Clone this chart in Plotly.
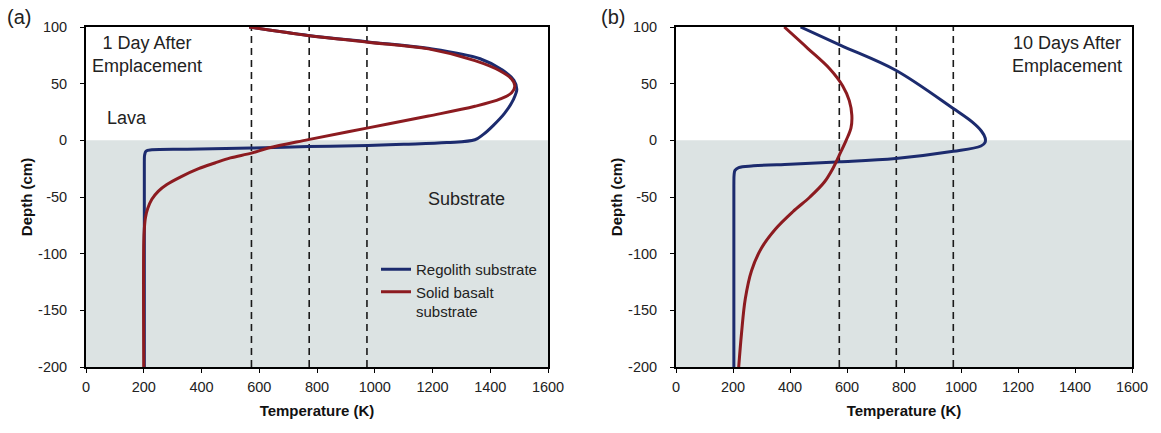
import plotly.graph_objects as go

# ---------------- data ----------------
# Panel (a): 1 day after emplacement
a_regolith_T = [565, 770, 977, 1190, 1365, 1442, 1482, 1492, 1480, 1450, 1410, 1375, 1347, 1250, 1100, 977, 770, 573, 350, 228, 208, 203, 202, 202]
a_regolith_d = [100, 92.6, 86.8, 81, 72, 62, 53, 45, 36, 24, 13, 5, 0.5, -2, -3.5, -4.5, -5.5, -6.8, -7.8, -8.4, -9.5, -13, -20, -200]
a_basalt_T = [565, 767, 977, 1186, 1347, 1433, 1474, 1485, 1474, 1435, 1347, 1186, 977, 770, 631, 573, 500, 446, 390, 330, 280, 250, 228, 214, 206, 202, 200, 200]
a_basalt_d = [100, 92.6, 86.6, 80.7, 70.3, 61.4, 54, 48, 42, 36.5, 30, 21.4, 11, 0.6, -6.8, -11.3, -15.5, -20, -25, -32, -39, -45, -52, -60, -68, -78, -90, -200]

# Panel (b): 10 days after emplacement
b_regolith_T = [437, 578, 771, 973, 1040, 1072, 1085, 1084, 1070, 973, 771, 573, 400, 272, 220, 207, 204, 203, 203]
b_regolith_d = [100, 83.8, 61.8, 28, 16, 8, 2, -2, -5, -9.7, -16, -19, -21, -22.5, -24, -26.5, -30, -40, -200]
b_basalt_T = [380, 463, 540, 585, 608, 617, 614, 597, 573, 550, 520, 470, 410, 350, 300, 265, 243, 230, 220]
b_basalt_d = [100, 81, 63, 48, 35, 22, 11, 0, -13, -25, -37, -50, -63, -78, -95, -115, -140, -170, -200]

isotherms_K = [573, 773, 973]
substrate_top = 0
x_ticks = [0, 200, 400, 600, 800, 1000, 1200, 1400, 1600]
y_ticks = [100, 50, 0, -50, -100, -150, -200]
y_tick_labels = ["100", "50", "0", "-50", "-100", "-150", "-200"]

series_names = ["Regolith substrate", "Solid basalt<br>substrate"]

# ---------------- style ----------------
BLUE = "#1c2b6e"
RED = "#8c1b20"
SHADE = "#dce3e3"
FONT = "Liberation Sans, Arial, sans-serif"

fig = go.Figure()

def add_pair(xa, ya, T1, d1, T2, d2, show):
    fig.add_trace(go.Scatter(x=T1, y=d1, mode="lines", name=series_names[0],
                             line=dict(color=BLUE, width=3, shape="spline", smoothing=1.0),
                             xaxis=xa, yaxis=ya, showlegend=show, legendrank=1))
    fig.add_trace(go.Scatter(x=T2, y=d2, mode="lines", name=series_names[1],
                             line=dict(color=RED, width=3, shape="spline", smoothing=1.0),
                             xaxis=xa, yaxis=ya, showlegend=show, legendrank=2))

add_pair("x", "y", a_regolith_T, a_regolith_d, a_basalt_T, a_basalt_d, True)
add_pair("x2", "y2", b_regolith_T, b_regolith_d, b_basalt_T, b_basalt_d, False)

shapes = []
for xr, yr in [("x", "y"), ("x2", "y2")]:
    shapes.append(dict(type="rect", xref=xr, yref=yr, x0=x_ticks[0], x1=x_ticks[-1],
                       y0=y_ticks[-1], y1=substrate_top, fillcolor=SHADE,
                       line=dict(width=0), layer="below"))
    for t in isotherms_K:
        shapes.append(dict(type="line", xref=xr, yref=yr, x0=t, x1=t,
                           y0=y_ticks[-1], y1=y_ticks[0],
                           line=dict(color="#1a1a1a", width=1.6, dash="7px,5px"),
                           layer="below"))

TICKF = dict(family=FONT, size=14.5, color="#222")
TITLEF = dict(family=FONT, size=15, color="#111")
axis_common = dict(range=[x_ticks[0], x_ticks[-1]], tickvals=x_ticks, showline=True,
                   linecolor="black", linewidth=2, mirror=True, ticks="outside",
                   ticklen=4, tickcolor="black", showgrid=False, zeroline=False,
                   tickfont=TICKF, ticklabelstandoff=2,
                   title=dict(text="<b>Temperature (K)</b>", font=TITLEF, standoff=11))
yaxis_common = dict(range=[y_ticks[-1], y_ticks[0]], tickvals=y_ticks, ticktext=y_tick_labels,
                    showline=True, linecolor="black", linewidth=2, mirror=True,
                    ticks="outside", ticklen=4, tickcolor="black", showgrid=False,
                    zeroline=False, tickfont=TICKF, ticklabelstandoff=10,
                    title=dict(text="<b>Depth (cm)</b>", font=TITLEF, standoff=2))

L, R, T, B = 86, 29, 27, 66
W, H = 1161, 433
PW = W - L - R
PH = H - T - B
da = [0, (548 - L) / PW]
db = [(676 - L) / PW, 1]

fig.update_layout(
    width=W, height=H, margin=dict(l=L, r=R, t=T, b=B),
    paper_bgcolor="white", plot_bgcolor="white",
    xaxis=dict(domain=da, anchor="y", **axis_common),
    yaxis=dict(domain=[0, 1], anchor="x", **yaxis_common),
    xaxis2=dict(domain=db, anchor="y2", **axis_common),
    yaxis2=dict(domain=[0, 1], anchor="x2", **yaxis_common),
    shapes=shapes,
    showlegend=True,
    legend=dict(x=(376 - L) / PW, y=(H - B - 253) / PH, xanchor="left", yanchor="top",
                bgcolor="rgba(0,0,0,0)", font=dict(family=FONT, size=15, color="#222"),
                itemwidth=30, valign="top", tracegroupgap=2),
    font=dict(family=FONT),
)

ann_font = dict(family=FONT, size=18, color="#222")
fig.add_annotation(x=212, y=76, xref="x", yref="y", text="1 Day After<br>Emplacement",
                   showarrow=False, font=ann_font, align="center")
fig.add_annotation(x=142, y=20, xref="x", yref="y", text="Lava", showarrow=False, font=ann_font)
fig.add_annotation(x=1318, y=-52, xref="x", yref="y", text="Substrate", showarrow=False, font=ann_font)
fig.add_annotation(x=1372, y=76, xref="x2", yref="y2", text="10 Days After<br>Emplacement",
                   showarrow=False, font=ann_font, align="center")
fig.add_annotation(x=(19 - L) / PW, y=(H - B - 17) / PH, xref="paper", yref="paper", text="(a)",
                   xanchor="center", yanchor="middle",
                   showarrow=False, font=dict(family=FONT, size=20, color="#222"))
fig.add_annotation(x=(613 - L) / PW, y=(H - B - 17) / PH, xref="paper", yref="paper", text="(b)",
                   xanchor="center", yanchor="middle",
                   showarrow=False, font=dict(family=FONT, size=20, color="#222"))

fig.write_html("out.html")
